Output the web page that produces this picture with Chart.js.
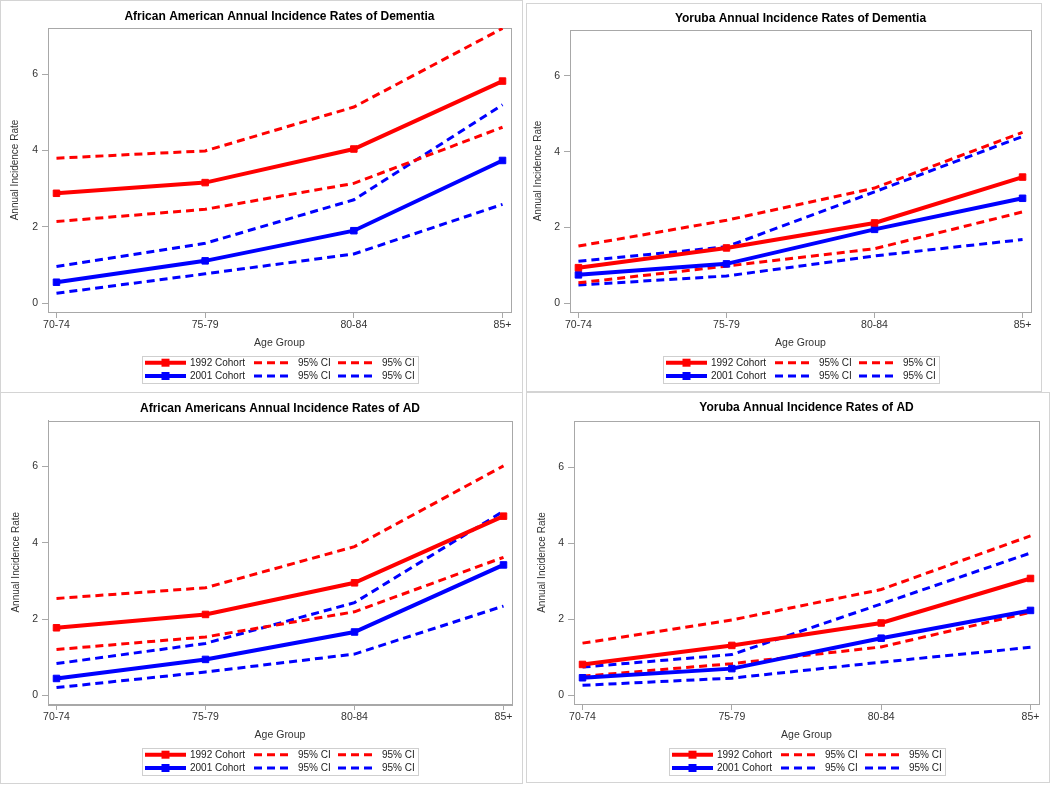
<!DOCTYPE html>
<html>
<head>
<meta charset="utf-8">
<script src="https://cdn.jsdelivr.net/npm/chart.js@4/dist/chart.umd.min.js"></script>
<style>
  body { margin: 0; background: #fff; }
  #page { position: relative; width: 1050px; height: 785px; overflow: hidden; }
  .panel { position: absolute; box-sizing: border-box; border: 1px solid #d4d4d4; background: #fff; }
  .panel canvas { display: block; }
</style>
</head>
<body>
<div id="page"></div>
<script>
const ageGroups = ['70-74', '75-79', '80-84', '85+'];
const yTicks = [0, 2, 4, 6];

// African American, dementia
const aaDem1992 = [2.88, 3.16, 4.04, 5.82];
const aaDem1992Upper = [3.80, 3.99, 5.14, 7.20];
const aaDem1992Lower = [2.14, 2.46, 3.14, 4.61];
const aaDem2001 = [0.55, 1.11, 1.90, 3.74];
const aaDem2001Upper = [0.96, 1.57, 2.71, 5.20];
const aaDem2001Lower = [0.26, 0.77, 1.29, 2.59];

// Yoruba, dementia
const yoDem1992 = [0.94, 1.46, 2.12, 3.33];
const yoDem1992Upper = [1.51, 2.19, 3.04, 4.51];
const yoDem1992Lower = [0.54, 0.98, 1.44, 2.41];
const yoDem2001 = [0.75, 1.04, 1.95, 2.77];
const yoDem2001Upper = [1.11, 1.49, 2.94, 4.40];
const yoDem2001Lower = [0.48, 0.72, 1.25, 1.68];

// African American, AD
const aaAd1992 = [1.77, 2.12, 2.95, 4.70];
const aaAd1992Upper = [2.54, 2.82, 3.90, 6.02];
const aaAd1992Lower = [1.20, 1.53, 2.19, 3.62];
const aaAd2001 = [0.44, 0.94, 1.66, 3.42];
const aaAd2001Upper = [0.83, 1.36, 2.43, 4.83];
const aaAd2001Lower = [0.20, 0.61, 1.08, 2.34];

// Yoruba, AD
const yoAd1992 = [0.81, 1.31, 1.90, 3.07];
const yoAd1992Upper = [1.37, 1.98, 2.78, 4.19];
const yoAd1992Lower = [0.50, 0.83, 1.27, 2.18];
const yoAd2001 = [0.46, 0.70, 1.50, 2.23];
const yoAd2001Upper = [0.74, 1.07, 2.40, 3.74];
const yoAd2001Lower = [0.26, 0.45, 0.87, 1.26];

const FONT = "'Liberation Sans', Arial, sans-serif";
const RED = '#ff0000', BLUE = '#0000ff';
const FRAME = '#a8a8a8';

// legend rows: dataset indices
const legendRows = [[0, 2, 3], [1, 4, 5]];

const panels = [
  { title: 'African American Annual Incidence Rates of Dementia',
    box: { left: 0, top: 0, w: 523, h: 393 }, frame: { l: 47, r: 510, t: 27, b: 311 },
    titleY: 15.7, yTitleX: 14, xTitleY: 342,
    series: [aaDem1992, aaDem2001, aaDem1992Upper, aaDem1992Lower, aaDem2001Upper, aaDem2001Lower] },
  { title: 'Yoruba Annual Incidence Rates of Dementia',
    box: { left: 526, top: 3, w: 516, h: 389 }, frame: { l: 43, r: 504, t: 26, b: 308 },
    titleY: 14.3, yTitleX: 11.3, xTitleY: 339.3,
    series: [yoDem1992, yoDem2001, yoDem1992Upper, yoDem1992Lower, yoDem2001Upper, yoDem2001Lower] },
  { title: 'African Americans Annual Incidence Rates of AD',
    box: { left: 0, top: 392, w: 523, h: 392 }, frame: { l: 47, r: 511, t: 27.5, b: 311 },
    titleY: 15.7, yTitleX: 15, xTitleY: 342.3,
    series: [aaAd1992, aaAd2001, aaAd1992Upper, aaAd1992Lower, aaAd2001Upper, aaAd2001Lower] },
  { title: 'Yoruba Annual Incidence Rates of AD',
    box: { left: 526, top: 392, w: 524, h: 391 }, frame: { l: 47, r: 512, t: 28, b: 311 },
    titleY: 15, yTitleX: 15.3, xTitleY: 342.3,
    series: [yoAd1992, yoAd2001, yoAd1992Upper, yoAd1992Lower, yoAd2001Upper, yoAd2001Lower] }
];

const frameBox = {
  id: 'frameBox',
  beforeDatasetsDraw(chart) {
    const { ctx, chartArea: a } = chart;
    ctx.save();
    ctx.strokeStyle = FRAME;
    ctx.lineWidth = 1;
    ctx.strokeRect(Math.round(a.left) + 0.5, Math.round(a.top) + 0.5,
      Math.round(a.right - a.left), Math.round(a.bottom - a.top));
    ctx.restore();
  }
};

const legendGrid = {
  id: 'legendGrid',
  afterDraw(chart) {
    const { ctx, chartArea: a } = chart;
    const ds = chart.data.datasets;
    const boxW = 276, boxH = 27;
    const left = Math.round((a.left + a.right) / 2 - boxW / 2);
    const top = Math.round(a.bottom + 44);
    const cols = [{ x: 3, w: 41, tx: 48 }, { x: 112, w: 34, tx: 156 }, { x: 196, w: 35, tx: 240 }];
    const rows = [6.7, 20];
    ctx.save();
    ctx.strokeStyle = '#cfcfcf';
    ctx.lineWidth = 1;
    ctx.strokeRect(left + 0.5, top + 0.5, boxW, boxH);
    legendRows.forEach((row, r) => row.forEach((idx, c) => {
      const d = ds[idx], col = cols[c];
      const y = top + rows[r];
      ctx.strokeStyle = d.borderColor;
      ctx.lineWidth = d.borderWidth;
      ctx.setLineDash(d.borderDash || []);
      ctx.beginPath();
      ctx.moveTo(left + col.x, y);
      ctx.lineTo(left + col.x + col.w, y);
      ctx.stroke();
      ctx.setLineDash([]);
      if (d.pointRadius > 0) {
        ctx.fillStyle = d.borderColor;
        ctx.fillRect(left + col.x + col.w / 2 - 4, y - 4, 8, 8);
      }
      ctx.fillStyle = '#222';
      ctx.font = '10px ' + FONT;
      ctx.textBaseline = 'middle';
      ctx.textAlign = 'left';
      ctx.fillText(d.label, left + col.tx, y + 0.5);
    }));
    ctx.restore();
  }
};

function makeDatasets(series) {
  const toPts = arr => arr.map((v, i) => ({ x: i, y: v }));
  const solid = (label, color, data) => ({
    label, data: toPts(data), borderColor: color, backgroundColor: color,
    borderWidth: 4, pointStyle: 'rect', pointRadius: 4.6, pointBorderWidth: 1,
    pointBackgroundColor: color, pointBorderColor: color
  });
  const dashed = (color, data) => ({
    label: '95% CI', data: toPts(data), borderColor: color, backgroundColor: color,
    borderWidth: 3, borderDash: [8, 5], pointRadius: 0
  });
  return [
    solid('1992 Cohort', RED, series[0]),
    solid('2001 Cohort', BLUE, series[1]),
    dashed(RED, series[2]),
    dashed(RED, series[3]),
    dashed(BLUE, series[4]),
    dashed(BLUE, series[5])
  ];
}

const page = document.getElementById('page');
panels.forEach(p => {
  const div = document.createElement('div');
  div.className = 'panel';
  Object.assign(div.style, { left: p.box.left + 'px', top: p.box.top + 'px', width: p.box.w + 'px', height: p.box.h + 'px' });
  const cw = p.box.w - 2, ch = p.box.h - 2;
  const canvas = document.createElement('canvas');
  canvas.width = cw; canvas.height = ch;
  canvas.style.width = cw + 'px'; canvas.style.height = ch + 'px';
  div.appendChild(canvas);
  page.appendChild(div);

  const f = p.frame;
  const xAxisH = 40;
  const titlePadTop = p.titleY - 7.2;

  new Chart(canvas, {
    type: 'line',
    data: { datasets: makeDatasets(p.series) },
    options: {
      responsive: false,
      animation: false,
      devicePixelRatio: 1,
      layout: { padding: { left: 0, top: 0, right: cw - f.r, bottom: ch - f.b - xAxisH } },
      plugins: {
        legend: { display: false },
        tooltip: { enabled: false },
        title: {
          display: true, text: p.title, color: '#000', fullSize: false,
          font: { family: FONT, size: 12, weight: 'bold', lineHeight: 1.2 },
          padding: { top: titlePadTop, bottom: f.t - 14.4 - titlePadTop }
        }
      },
      scales: {
        x: {
          type: 'linear', min: -0.057, max: 3.057,
          afterBuildTicks: s => { s.ticks = ageGroups.map((_, i) => ({ value: i })); },
          afterFit: s => { s.height = xAxisH; },
          ticks: { callback: v => ageGroups[v], color: '#333', padding: 1, maxRotation: 0,
                   font: { family: FONT, size: 10.5 } },
          grid: { drawOnChartArea: false, drawTicks: true, tickLength: 6, color: FRAME },
          border: { display: true, color: FRAME },
          title: { display: true, text: 'Age Group', color: '#333',
                   font: { family: FONT, size: 10.5, lineHeight: 1.2 },
                   padding: { top: 0, bottom: f.b + xAxisH - 6.3 - p.xTitleY } }
        },
        y: {
          min: -0.23, max: 7.21,
          afterBuildTicks: s => { s.ticks = yTicks.map(v => ({ value: v })); },
          afterFit: s => { s.width = f.l; },
          ticks: { color: '#333', padding: 4, font: { family: FONT, size: 10.5 } },
          grid: { drawOnChartArea: false, drawTicks: true, tickLength: 6, color: FRAME },
          border: { display: true, color: FRAME },
          title: { display: true, text: 'Annual Incidence Rate', color: '#333',
                   font: { family: FONT, size: 10, lineHeight: 1.2 },
                   padding: { top: p.yTitleX - 6, bottom: 0 } }
        }
      }
    },
    plugins: [frameBox, legendGrid]
  });
});
</script>
</body>
</html>
